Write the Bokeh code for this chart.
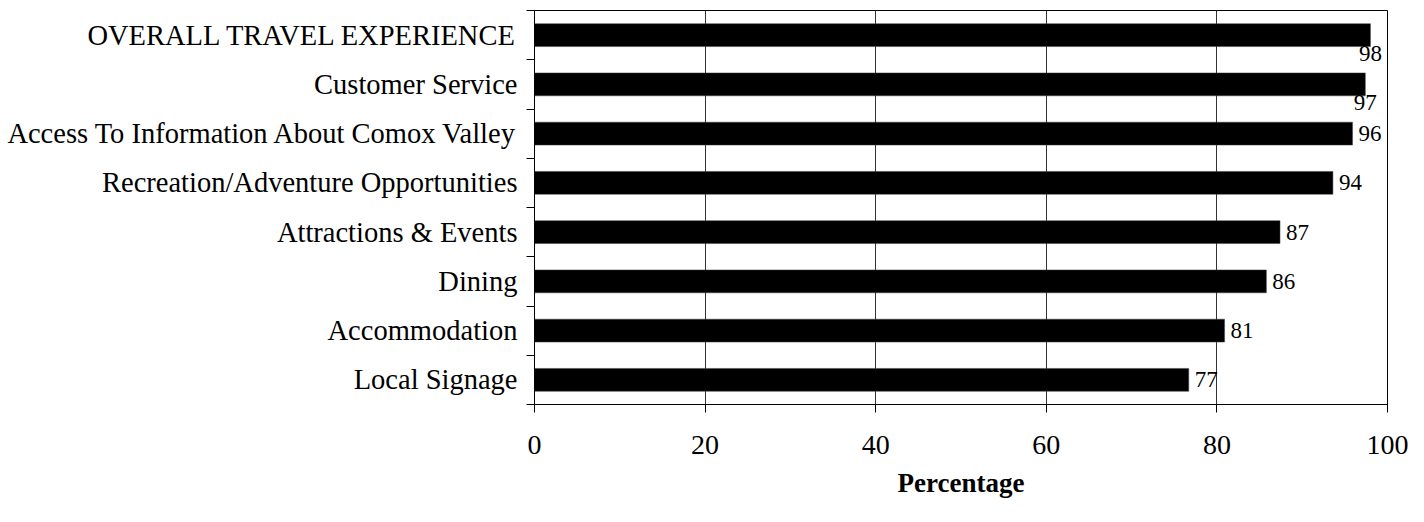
from bokeh.plotting import figure, ColumnDataSource
from bokeh.models import Range1d, FixedTicker, Title
from bokeh.core.properties import value
from bokeh.embed import file_html
from bokeh.resources import INLINE

categories = [
    "OVERALL TRAVEL EXPERIENCE",
    "Customer Service",
    "Access To Information About Comox Valley",
    "Recreation/Adventure Opportunities",
    "Attractions & Events",
    "Dining",
    "Accommodation",
    "Local Signage",
]
values = [98.0, 97.4, 95.9, 93.6, 87.4, 85.8, 80.9, 76.7]
labels = ["98", "97", "96", "94", "87", "86", "81", "77"]
x_ticks = [0, 20, 40, 60, 80, 100]
x_title = "Percentage"

FONT = "Liberation Serif"
n = len(categories)
ypos = [n - 0.5 - i for i in range(n)]
bar_h = 0.465

p = figure(width=1408, height=506, output_backend="svg", toolbar_location=None,
           x_range=Range1d(0, 100), y_range=Range1d(0, n),
           min_border_left=534, min_border_right=21, min_border_top=10, min_border_bottom=100)
p.outline_line_color = "black"
p.outline_line_width = 1
p.background_fill_color = "white"
p.border_fill_color = "white"

src = ColumnDataSource(dict(y=ypos, v=values, lab=labels, cat=categories))
p.hbar(y="y", right="v", left=0, height=bar_h, source=src,
       fill_color="black", line_color="#444444", line_width=0.5)

# labels: below the bar end for values that would overflow, else right of bar
right_src = ColumnDataSource(dict(
    x=[v for v in values if v < 96.5], y=[y for v, y in zip(values, ypos) if v < 96.5],
    t=[l for v, l in zip(values, labels) if v < 96.5]))
below_src = ColumnDataSource(dict(
    x=[v for v in values if v >= 96.5], y=[y - bar_h / 2 for v, y in zip(values, ypos) if v >= 96.5],
    t=[l for v, l in zip(values, labels) if v >= 96.5]))
p.text(x="x", y="y", text="t", source=right_src, x_offset=6, text_align="left",
       text_baseline="middle", text_font=value(FONT), text_font_size="23px", text_color="black")
p.text(x="x", y="y", text="t", source=below_src, x_offset=0, y_offset=-1, text_align="center",
       text_baseline="top", text_font=value(FONT), text_font_size="23px", text_color="black")

# x axis
xa = p.xaxis[0]
xa.ticker = FixedTicker(ticks=x_ticks, minor_ticks=[])
xa.major_tick_out = 8
xa.major_tick_in = 0
xa.minor_tick_out = 0
xa.minor_tick_in = 0
xa.axis_line_color = "black"
xa.major_tick_line_color = "black"
xa.major_label_text_font = FONT
xa.major_label_text_font_size = "28px"
xa.major_label_text_color = "black"
xa.major_label_standoff = 23

# axis title as a below-title (allows horizontal offset)
p.add_layout(Title(text=x_title, align="center", offset=-18, standoff=18,
                   text_font=FONT, text_font_style="bold", text_font_size="27px",
                   text_color="black"), "below")

# y axis: labels at centers, ticks at boundaries
ya = p.yaxis[0]
ya.ticker = FixedTicker(ticks=ypos, minor_ticks=list(range(n + 1)))
ya.major_label_overrides = {y: c for y, c in zip(ypos, categories)}
ya.major_tick_out = 0
ya.major_tick_in = 0
ya.minor_tick_out = 8
ya.minor_tick_in = 0
ya.minor_tick_line_color = "black"
ya.axis_line_color = "black"
ya.major_label_text_font = FONT
ya.major_label_text_font_size = "28.5px"
ya.major_label_text_color = "black"
ya.major_label_standoff = 9

p.xgrid.ticker = FixedTicker(ticks=x_ticks)
p.xgrid.grid_line_color = "#333333"
p.xgrid.grid_line_width = 1
p.ygrid.grid_line_color = None

open("out.html", "w").write(file_html(p, INLINE))
